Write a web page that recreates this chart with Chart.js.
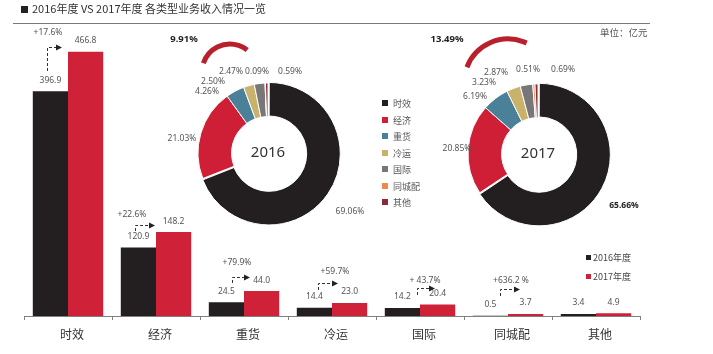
<!DOCTYPE html>
<html>
<head>
<meta charset="utf-8">
<script src="https://cdn.jsdelivr.net/npm/chart.js@4.4.1/dist/chart.umd.min.js"></script>
<style>
  body { margin: 0; background: #fff; font-family: "Noto Sans CJK SC", "Noto Sans", sans-serif; }
  #wrap { position: relative; width: 713px; height: 354px; overflow: hidden; }
  canvas { position: absolute; }
  .txt { position: absolute; white-space: nowrap; color: #555; line-height: 1; }
  .sq { display: inline-block; width: 6px; height: 6px; margin-right: 5px; vertical-align: 1px; }
</style>
</head>
<body>
<div id="wrap">
  <canvas id="bars" width="713" height="354" style="left:0;top:0"></canvas>
  <canvas id="d2016" width="260" height="260" style="left:138px;top:23px"></canvas>
  <canvas id="d2017" width="260" height="260" style="left:408px;top:24px"></canvas>
  <div class="txt" style="left:21px;top:3px;font-size:11px;color:#333"><span class="sq" style="width:7px;height:7px;margin-right:4px;vertical-align:0;background:#222"></span>2016年度 VS 2017年度 各类型业务收入情况一览</div>
  <div style="position:absolute;left:13px;top:23px;width:637px;height:1px;background:#7a7a7a"></div>
  <div class="txt" style="left:600px;top:28px;font-size:9.5px;color:#555">单位：亿元</div>
  <div id="pieLegend"></div>
  <div id="barLegend"></div>
</div>
<script>
const categories = ['时效', '经济', '重货', '冷运', '国际', '同城配', '其他'];
const years = ['2016年度', '2017年度'];
const income2016 = [396.9, 120.9, 24.5, 14.4, 14.2, 0.5, 3.4];
const income2017 = [466.8, 148.2, 44.0, 23.0, 20.4, 3.7, 4.9];
const growth = ['+17.6%', '+22.6%', '+79.9%', '+59.7%', '+ 43.7%', '+636.2 %', ''];
const share2016 = [69.06, 21.03, 4.26, 2.50, 2.47, 0.09, 0.59];
const share2017 = [65.66, 20.85, 6.19, 3.23, 2.87, 0.51, 0.69];
const otherShare = ['9.91%', '13.49%'];

const sliceColors = ['#231f20', '#cf1f36', '#4a8199', '#c9b26c', '#787676', '#ef8a4c', '#8c2b36'];
const barColors = ['#231f20', '#cf2239'];

// legends
const pieLegend = document.getElementById('pieLegend');
categories.forEach((c, i) => {
  const d = document.createElement('div');
  d.className = 'txt';
  d.style.cssText = 'left:382px;top:' + (99 + i * 16.5) + 'px;font-size:9px';
  d.innerHTML = '<span class="sq" style="background:' + sliceColors[i] + '"></span>' + c;
  pieLegend.appendChild(d);
});
const barLegend = document.getElementById('barLegend');
years.forEach((y, i) => {
  const d = document.createElement('div');
  d.className = 'txt';
  d.style.cssText = 'left:586px;top:' + (253 + i * 18.5) + 'px;font-size:9px;color:#444';
  d.innerHTML = '<span class="sq" style="width:5px;height:5px;margin-right:2px;background:' + barColors[i] + '"></span>' + y;
  barLegend.appendChild(d);
});

// arrow layout per category (offsets in px)
const arrowX0 = [23, 23, 32, 30, 41, 36];
const arrowX1 = [38, 43, 50, 50, 59, 56];
const arrowUp = [33, 12, 14, 14, 9, 16];
const arrowStem = [24, 6, 6, 7, 7, 7];
const pctX = [24, 20, 37, 47, 49, 47];
const pctUp = [14, 10, 14, 11, 7, 8];

const barLabels = {
  id: 'barLabels',
  afterDatasetsDraw(chart) {
    const ctx = chart.ctx;
    const m0 = chart.getDatasetMeta(0).data;
    const m1 = chart.getDatasetMeta(1).data;
    const xs = chart.scales.x;
    const step = xs.width / categories.length;
    ctx.save();
    ctx.font = '8.5px "Noto Sans", sans-serif';
    ctx.fillStyle = '#555';
    ctx.textAlign = 'center';
    ctx.textBaseline = 'middle';
    categories.forEach((c, i) => {
      const l0 = m0[i].y - 11;
      ctx.fillText(income2016[i].toFixed(1), m0[i].x, l0);
      ctx.fillText(income2017[i].toFixed(1), m1[i].x, m1[i].y - 11);
      if (!growth[i]) return;
      const left = xs.left + step * i;
      const hy = Math.round(l0 - arrowUp[i]);
      const x0 = Math.round(left + arrowX0[i]), x1 = left + arrowX1[i];
      ctx.strokeStyle = '#333';
      ctx.lineWidth = 1;
      ctx.setLineDash([3, 2]);
      ctx.beginPath();
      ctx.moveTo(x0 + 0.5, hy + arrowStem[i]);
      ctx.lineTo(x0 + 0.5, hy + 0.5);
      ctx.lineTo(x1 - 4, hy + 0.5);
      ctx.stroke();
      ctx.setLineDash([]);
      ctx.fillStyle = '#222';
      ctx.beginPath();
      ctx.moveTo(x1, hy + 0.5);
      ctx.lineTo(x1 - 6, hy - 2.5);
      ctx.lineTo(x1 - 6, hy + 3.5);
      ctx.closePath();
      ctx.fill();
      ctx.fillStyle = '#555';
      ctx.fillText(growth[i], left + pctX[i], hy - pctUp[i]);
    });
    ctx.restore();
  }
};

new Chart(document.getElementById('bars'), {
  type: 'bar',
  data: {
    labels: categories,
    datasets: [
      { label: years[0], data: income2016, backgroundColor: barColors[0] },
      { label: years[1], data: income2017, backgroundColor: barColors[1] }
    ]
  },
  options: {
    responsive: false,
    animation: false,
    categoryPercentage: 0.8,
    barPercentage: 1.0,
    layout: { padding: { left: 24, right: 73, top: 33, bottom: 5.6 } },
    plugins: { legend: { display: false }, tooltip: { enabled: false } },
    scales: {
      y: { display: false, min: 0, max: 500 },
      x: {
        border: { color: '#808080' },
        grid: { drawOnChartArea: false, drawTicks: true, tickLength: 4, color: '#808080' },
        ticks: { color: '#333', padding: 7, labelOffset: 4,
          font: { size: 12, family: '"Noto Sans CJK SC", sans-serif' } }
      }
    }
  },
  plugins: [barLabels]
});

// donut label positions relative to centre
const pos2016 = [[82, 59], [-86, -14], [-61, -61], [-55, -71], [-37, -81], [-11, -81], [22, -81]];
const pos2017 = [[86, 52], [-81, -5], [-63, -57], [-54, -71], [-42, -81], [-10, -84], [25, -84]];

function donutDeco(year, pos, bigBold, otherLbl, otherPos, arc) {
  return {
    id: 'deco' + year,
    afterDraw(chart) {
      const ctx = chart.ctx;
      const a = chart.getDatasetMeta(0).data[1];
      const cx = a.x, cy = a.y;
      ctx.save();
      ctx.textAlign = 'center';
      ctx.textBaseline = 'middle';
      ctx.fillStyle = '#333';
      ctx.font = '15px "Noto Sans", sans-serif';
      ctx.fillText(year, cx, cy);
      const vals = chart.data.datasets[0].data;
      vals.forEach((v, i) => {
        const bold = i === 0 && bigBold;
        ctx.font = (bold ? 'bold ' : '') + '8.5px "Noto Sans", sans-serif';
        ctx.fillStyle = bold ? '#222' : '#555';
        ctx.fillText(v.toFixed(2) + '%', cx + pos[i][0], cy + pos[i][1]);
      });
      ctx.font = 'bold 9.5px "Noto Sans", sans-serif';
      ctx.fillStyle = '#222';
      ctx.fillText(otherLbl, cx + otherPos[0], cy + otherPos[1]);
      ctx.strokeStyle = '#b8202b';
      ctx.lineWidth = 5;
      ctx.beginPath();
      ctx.arc(cx + arc[0], cy + arc[1], arc[2], arc[3] * Math.PI / 180, arc[4] * Math.PI / 180);
      ctx.stroke();
      ctx.restore();
    }
  };
}

function donut(id, year, shares, pos, bigBold, otherLbl, otherPos, arc) {
  new Chart(document.getElementById(id), {
    type: 'doughnut',
    data: {
      labels: categories,
      datasets: [{
        data: shares,
        backgroundColor: sliceColors,
        borderColor: '#fff',
        borderWidth: 1,
        offset: [5, 0, 0, 0, 0, 0, 0]
      }]
    },
    options: {
      responsive: false,
      animation: false,
      radius: 70,
      cutout: '52%',
      plugins: { legend: { display: false }, tooltip: { enabled: false } }
    },
    plugins: [donutDeco(year, pos, bigBold, otherLbl, otherPos, arc)]
  });
}

donut('d2016', '2016', share2016, pos2016, false, otherShare[0], [-84, -114], [-38, -81, 28, -162, -52]);
donut('d2017', '2017', share2017, pos2017, true, otherShare[1], [-91, -115], [-30, -71, 44, -159, -65]);
</script>
</body>
</html>
